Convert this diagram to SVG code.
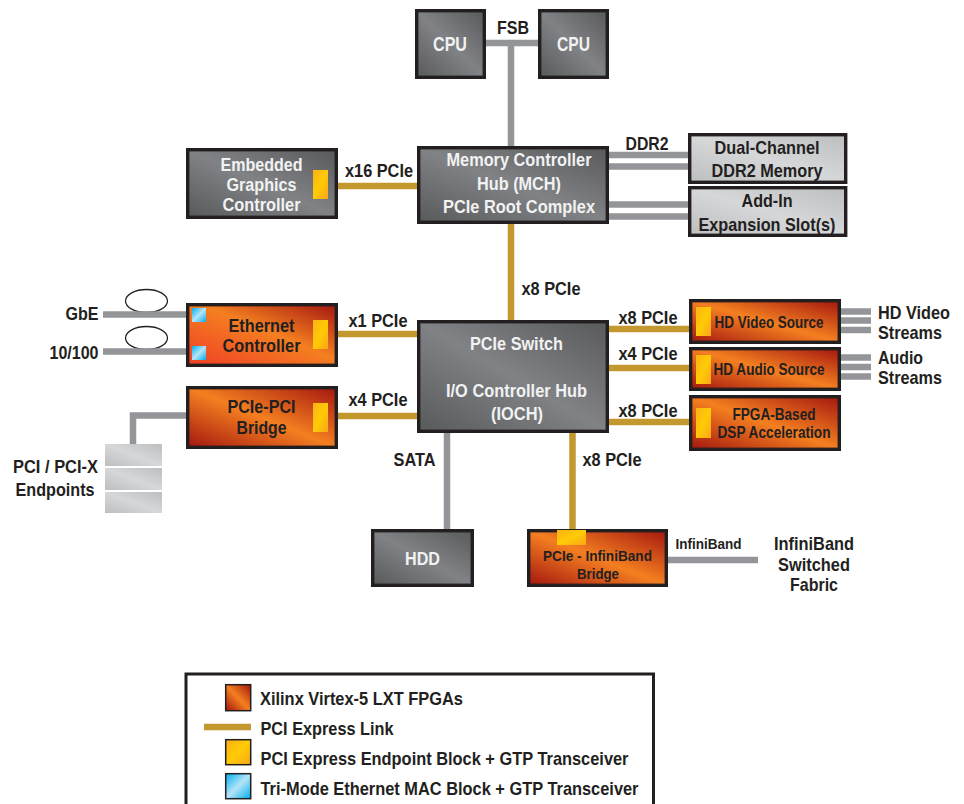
<svg xmlns="http://www.w3.org/2000/svg" width="964" height="804" viewBox="0 0 964 804">
<defs>
<linearGradient id="gDark" x1="0" y1="1" x2="1" y2="0"><stop offset="0" stop-color="#58595b"/><stop offset=".5" stop-color="#808285"/><stop offset="1" stop-color="#58595b"/></linearGradient>
<linearGradient id="gLight" x1="0" y1="1" x2="1" y2="0"><stop offset="0" stop-color="#bcbec0"/><stop offset=".5" stop-color="#d6d7d9"/><stop offset="1" stop-color="#bcbec0"/></linearGradient>
<linearGradient id="gOrange" x1="0" y1="1" x2="1" y2="0"><stop offset="0" stop-color="#a3160f"/><stop offset=".5" stop-color="#f47f20"/><stop offset="1" stop-color="#a3160f"/></linearGradient>
<linearGradient id="gEth" x1="0" y1="1" x2="1" y2="0"><stop offset="0" stop-color="#ef3e26"/><stop offset=".55" stop-color="#f47f20"/><stop offset="1" stop-color="#a3160f"/></linearGradient>
<linearGradient id="gEnd" x1="0" y1="0" x2="1" y2="1"><stop offset="0" stop-color="#fbb017"/><stop offset=".5" stop-color="#ffcb05"/><stop offset="1" stop-color="#f9a51a"/></linearGradient>
<linearGradient id="gMac" x1="0" y1="0" x2="1" y2="1"><stop offset="0" stop-color="#00aeef"/><stop offset=".5" stop-color="#b5e4f7"/><stop offset="1" stop-color="#00aeef"/></linearGradient>
</defs>
<style>
text{font-family:"Liberation Sans",Arial,sans-serif;font-weight:700;font-size:18.5px;fill:#231f20}
text.w{fill:#f1f2f2}
text.c{font-size:20px}
text.s{font-size:15.5px}
text.m{font-size:16.5px}
text.b{font-size:15.5px}
.box{stroke:#231f20;stroke-width:3.4}
.dark{fill:url(#gDark)}.light{fill:url(#gLight)}.fpga{fill:url(#gOrange)}.eth{fill:url(#gEth)}
.ep{fill:url(#gEnd)}.mac{fill:url(#gMac)}
.g{stroke:#939598;fill:none}
.l{stroke:#c2982f;fill:none}
.sw{stroke:#231f20;stroke-width:1.5}
</style>
<g id="connectors">
<ellipse cx="146.500" cy="301" rx="21" ry="11.500" fill="none" stroke="#231f20" stroke-width="1.300"/>
<ellipse cx="146.500" cy="338" rx="21" ry="11.500" fill="none" stroke="#231f20" stroke-width="1.300"/>
<g class="g" stroke-width="6.5">
<path d="M486 43H538M511 43V146"/>
<path d="M609 155H688M609 166.500H688M609 204.500H688M609 216.500H688"/>
<path d="M103 314.500H186M103 351.500H186"/>
<path d="M186 415.500H133V444"/>
<path d="M447 432V529"/>
<path d="M668 560H758"/>
<path d="M841 311.500H871M841 320.500H871M841 330H871M841 357.500H871M841 367H871M841 376.500H871"/>
</g>
<g class="l" stroke-width="6.500">
<path d="M338 186H417"/>
<path d="M511 224V320"/>
<path d="M338 334H417M338 416H417"/>
<path d="M609 329H689M609 368H689M609 422H689"/>
<path d="M572.500 432V530"/>
</g>
</g>
<g id="cpu1"><rect class="box dark" x="416.700" y="10.700" width="67.600" height="66.600"/><text class="w c" x="433" y="51" textLength="34" lengthAdjust="spacingAndGlyphs">CPU</text></g>
<g id="cpu2"><rect class="box dark" x="539.700" y="10.700" width="67.600" height="66.600"/><text class="w c" x="557" y="51" textLength="33" lengthAdjust="spacingAndGlyphs">CPU</text></g>
<g id="mch"><rect class="box dark" x="418.700" y="147.700" width="188.600" height="74.600"/>
<text class="w" x="446.500" y="166" textLength="145" lengthAdjust="spacingAndGlyphs">Memory Controller</text>
<text class="w" x="477" y="190" textLength="84" lengthAdjust="spacingAndGlyphs">Hub (MCH)</text>
<text class="w" x="443" y="213" textLength="152" lengthAdjust="spacingAndGlyphs">PCIe Root Complex</text></g>
<g id="graphics"><rect class="box dark" x="187.700" y="149.700" width="148.600" height="67.600"/>
<text class="w" x="220.500" y="171" textLength="82" lengthAdjust="spacingAndGlyphs">Embedded</text>
<text class="w" x="226.500" y="191" textLength="70" lengthAdjust="spacingAndGlyphs">Graphics</text>
<text class="w" x="222.500" y="211" textLength="78" lengthAdjust="spacingAndGlyphs">Controller</text>
<rect class="ep" x="313" y="170" width="15" height="29"/></g>
<g id="ddr"><rect class="box light" x="689.700" y="134.700" width="156" height="47.600"/>
<text x="714.500" y="154" textLength="105" lengthAdjust="spacingAndGlyphs">Dual-Channel</text>
<text x="711.500" y="177" textLength="111" lengthAdjust="spacingAndGlyphs">DDR2 Memory</text></g>
<g id="addin"><rect class="box light" x="689.700" y="187.700" width="156" height="47.600"/>
<text x="741.500" y="207" textLength="51" lengthAdjust="spacingAndGlyphs">Add-In</text>
<text x="698.500" y="231" textLength="137" lengthAdjust="spacingAndGlyphs">Expansion Slot(s)</text></g>
<g id="ethernet"><rect class="box eth" x="187.700" y="304.700" width="148.600" height="60.600"/>
<rect class="mac" x="192" y="308" width="14" height="14"/><rect class="mac" x="192" y="346" width="14" height="14"/>
<text x="228.500" y="332" textLength="66" lengthAdjust="spacingAndGlyphs">Ethernet</text>
<text x="222.500" y="352" textLength="78" lengthAdjust="spacingAndGlyphs">Controller</text>
<rect class="ep" x="313" y="320" width="15" height="29"/></g>
<g id="pcipci"><rect class="box fpga" x="187.700" y="387.700" width="148.600" height="59.600"/>
<text x="227.500" y="413" textLength="68" lengthAdjust="spacingAndGlyphs">PCIe-PCI</text>
<text x="236.500" y="433.500" textLength="50" lengthAdjust="spacingAndGlyphs">Bridge</text>
<rect class="ep" x="313" y="403" width="15" height="29"/></g>
<g id="endpoints"><rect class="light" x="105" y="444" width="57" height="22"/><rect class="light" x="105" y="468" width="57" height="22"/><rect class="light" x="105" y="492" width="57" height="21"/></g>
<g id="switch"><rect class="box dark" x="418.700" y="321.700" width="188.600" height="109.600"/>
<text class="w" x="470" y="349.500" textLength="93" lengthAdjust="spacingAndGlyphs">PCIe Switch</text>
<text class="w" x="446" y="396.500" textLength="141" lengthAdjust="spacingAndGlyphs">I/O Controller Hub</text>
<text class="w" x="491" y="419.500" textLength="52" lengthAdjust="spacingAndGlyphs">(IOCH)</text></g>
<g id="hdvideo"><rect class="box fpga" x="690.700" y="300.700" width="148.600" height="41.600"/>
<rect class="ep" x="696" y="307" width="15" height="29"/>
<text class="m" x="714.500" y="328" textLength="109" lengthAdjust="spacingAndGlyphs">HD Video Source</text></g>
<g id="hdaudio"><rect class="box fpga" x="690.700" y="348.700" width="148.600" height="40.600"/>
<rect class="ep" x="696" y="355" width="15" height="29"/>
<text class="m" x="713.500" y="375" textLength="111" lengthAdjust="spacingAndGlyphs">HD Audio Source</text></g>
<g id="dsp"><rect class="box fpga" x="690.700" y="396.700" width="148.600" height="52.600"/>
<rect class="ep" x="696" y="408" width="15" height="30"/>
<text class="m" x="732.500" y="419.500" textLength="83" lengthAdjust="spacingAndGlyphs">FPGA-Based</text>
<text class="m" x="717.500" y="437.500" textLength="113" lengthAdjust="spacingAndGlyphs">DSP Acceleration</text></g>
<g id="hdd"><rect class="box dark" x="372.700" y="530.700" width="99.600" height="54.600"/>
<text class="w" x="405" y="564.500" textLength="35" lengthAdjust="spacingAndGlyphs">HDD</text></g>
<g id="ibbridge"><rect class="box fpga" x="528.700" y="530.700" width="137.600" height="54.600"/>
<rect class="ep" x="557" y="530" width="29" height="15"/>
<text class="b" x="543" y="560.500" textLength="109" lengthAdjust="spacingAndGlyphs">PCIe - InfiniBand</text>
<text class="b" x="577" y="578.500" textLength="42" lengthAdjust="spacingAndGlyphs">Bridge</text></g>
<g id="labels">
<text x="497" y="33.500" textLength="32" lengthAdjust="spacingAndGlyphs">FSB</text>
<text x="345" y="176.500" textLength="68" lengthAdjust="spacingAndGlyphs">x16 PCIe</text>
<text x="625.500" y="150" textLength="43" lengthAdjust="spacingAndGlyphs">DDR2</text>
<text x="521.500" y="294.500" textLength="59" lengthAdjust="spacingAndGlyphs">x8 PCIe</text>
<text x="348.500" y="327" textLength="59" lengthAdjust="spacingAndGlyphs">x1 PCIe</text>
<text x="348.500" y="405.500" textLength="59" lengthAdjust="spacingAndGlyphs">x4 PCIe</text>
<text x="618.500" y="323.500" textLength="59" lengthAdjust="spacingAndGlyphs">x8 PCIe</text>
<text x="618.500" y="360" textLength="59" lengthAdjust="spacingAndGlyphs">x4 PCIe</text>
<text x="618.500" y="417" textLength="59" lengthAdjust="spacingAndGlyphs">x8 PCIe</text>
<text x="582.500" y="465.500" textLength="59" lengthAdjust="spacingAndGlyphs">x8 PCIe</text>
<text x="393.500" y="465.500" textLength="42" lengthAdjust="spacingAndGlyphs">SATA</text>
<text x="65.500" y="319.500" textLength="33" lengthAdjust="spacingAndGlyphs">GbE</text>
<text x="49.500" y="359" textLength="49" lengthAdjust="spacingAndGlyphs">10/100</text>
<text x="13" y="472.500" textLength="85" lengthAdjust="spacingAndGlyphs">PCI / PCI-X</text>
<text x="15.500" y="495.500" textLength="79" lengthAdjust="spacingAndGlyphs">Endpoints</text>
<text x="878" y="319" textLength="72" lengthAdjust="spacingAndGlyphs">HD Video</text>
<text x="878" y="339" textLength="64" lengthAdjust="spacingAndGlyphs">Streams</text>
<text x="878" y="363.500" textLength="45" lengthAdjust="spacingAndGlyphs">Audio</text>
<text x="878" y="384" textLength="64" lengthAdjust="spacingAndGlyphs">Streams</text>
<text class="s" x="675.500" y="549" textLength="66" lengthAdjust="spacingAndGlyphs">InfiniBand</text>
<text x="774" y="550" textLength="80" lengthAdjust="spacingAndGlyphs">InfiniBand</text>
<text x="778" y="570.500" textLength="72" lengthAdjust="spacingAndGlyphs">Switched</text>
<text x="790" y="591" textLength="48" lengthAdjust="spacingAndGlyphs">Fabric</text>
</g>
<g id="legend">
<rect x="186" y="674" width="467.500" height="140" fill="#fff" stroke="#231f20" stroke-width="3"/>
<rect class="sw fpga" x="225.700" y="684.700" width="25" height="26"/>
<path class="l" stroke-width="6.500" d="M204 727H251"/>
<rect class="sw ep" x="225.700" y="739.700" width="25" height="25"/>
<rect class="sw mac" x="225.700" y="773.700" width="25" height="25"/>
<text x="260" y="704.500" textLength="203" lengthAdjust="spacingAndGlyphs">Xilinx Virtex-5 LXT FPGAs</text>
<text x="260.500" y="734.500" textLength="133" lengthAdjust="spacingAndGlyphs">PCI Express Link</text>
<text x="260.500" y="764.500" textLength="368" lengthAdjust="spacingAndGlyphs">PCI Express Endpoint Block + GTP Transceiver</text>
<text x="260.500" y="794.500" textLength="378" lengthAdjust="spacingAndGlyphs">Tri-Mode Ethernet MAC Block + GTP Transceiver</text>
</g>
</svg>
